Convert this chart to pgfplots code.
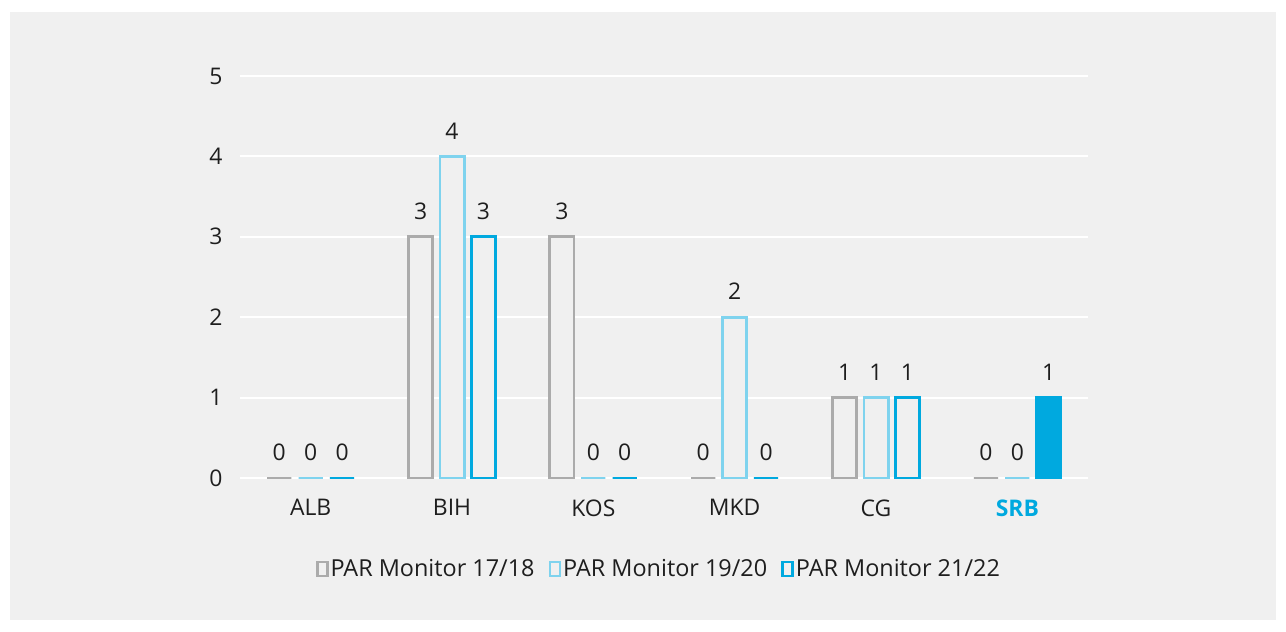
\documentclass[border=0pt]{standalone}
\usepackage{pgfplots}
\pgfplotsset{compat=1.18}
\usepackage{fontspec}
\setmainfont{Open Sans}
\definecolor{panel}{HTML}{F0F0F0}
\definecolor{cA}{HTML}{ABABAB}
\definecolor{cB}{HTML}{7FD3EE}
\definecolor{cC}{HTML}{00A9DF}
\definecolor{txt}{HTML}{1E1E1E}
\newcommand{\lblfont}{\fontsize{23}{27}\selectfont}
\begin{document}
\begin{tikzpicture}
\fill[white] (0,0) rectangle (1286bp,-632bp);
\fill[panel] (10bp,-12bp) rectangle (1276bp,-620bp);
\begin{axis}[
  at={(240bp,-478bp)}, anchor=south west,
  width=848bp, height=402bp, scale only axis,
  xmin=-0.5, xmax=5.5, ymin=0, ymax=5,
  /pgf/number format/assume math mode=true,
  ybar, bar width=24.3bp,
  axis line style={draw=none},
  major tick length=0pt,
  ytick={0,1,2,3,4,5},
  ymajorgrids, grid style={white, line width=2bp},
  xtick={0,1,2,3,4,5},
  xticklabels={ALB,BIH,KOS,MKD,CG,{\bfseries\color{cC}SRB}},
  ticklabel style={font=\lblfont, text=txt},
  yticklabel style={xshift=-14bp},
  xticklabel style={yshift=-18bp},
  legend style={at={(0.494,-0.2264)}, anchor=center, draw=none, fill=none,
    legend columns=3, font=\fontsize{23.5}{27}\selectfont, text=txt,
    /tikz/every even column/.append style={column sep=12bp},
    inner sep=0pt, nodes={inner sep=2bp}},
  legend image code/.code={\draw[#1, fill=none, line width=2.6bp] (0bp,-7bp) rectangle (10bp,7bp);},
  every node near coord/.append style={font=\lblfont, text=txt, anchor=south, inner sep=0pt, yshift=16bp},
]
\addplot[draw=cA, fill=panel, line width=2.7bp, bar shift=-31.4bp, nodes near coords]
  coordinates {(0,0) (1,3) (2,3) (3,0) (4,1) (5,0)};
\addlegendentry{PAR Monitor 17/18}
\addplot[draw=cB, fill=panel, line width=2.7bp, bar shift=0bp, nodes near coords]
  coordinates {(0,0) (1,4) (2,0) (3,2) (4,1) (5,0)};
\addlegendentry{PAR Monitor 19/20}
\addplot[draw=cC, fill=panel, line width=2.7bp, bar shift=31.4bp, nodes near coords]
  coordinates {(0,0) (1,3) (2,0) (3,0) (4,1) (5,1)};
\addlegendentry{PAR Monitor 21/22}
\addplot[forget plot, draw=cC, fill=cC, line width=0.5bp, bar shift=31.4bp, bar width=26bp]
  coordinates {(5,1)};
\end{axis}
\end{tikzpicture}
\end{document}
